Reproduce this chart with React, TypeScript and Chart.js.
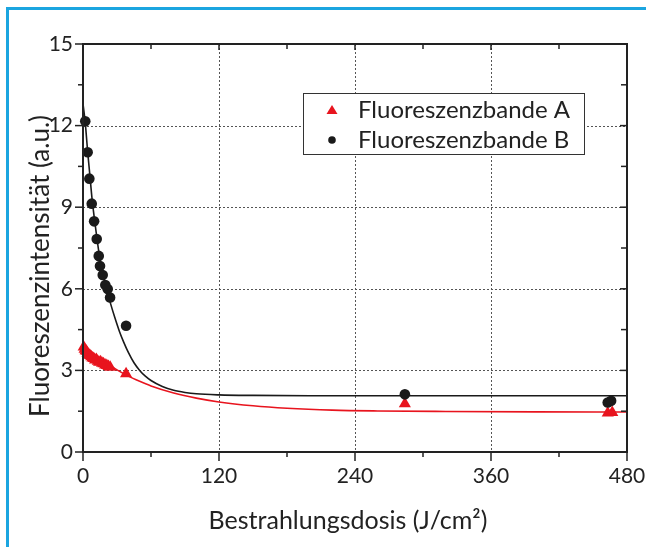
import React, { useEffect, useRef } from 'react';
import { Chart, registerables } from 'chart.js';

Chart.register(...registerables);

// ---- data ----
const doseA = [0.6, 1.4, 2.3, 3.1, 4.0, 5.0, 6.1, 7.2, 8.3, 9.5, 10.6, 11.8, 13.0, 14.2, 15.5, 16.8, 18.1, 19.5, 21.0, 22.5, 24.0, 38.0, 284, 463, 467];
const intensityA = [3.86, 3.78, 3.72, 3.70, 3.62, 3.58, 3.55, 3.50, 3.46, 3.44, 3.38, 3.40, 3.34, 3.30, 3.32, 3.26, 3.24, 3.20, 3.18, 3.14, 3.12, 2.88, 1.77, 1.43, 1.45];

const doseB = [2.0, 4.1, 5.6, 7.7, 9.8, 12.1, 13.9, 15.0, 17.4, 19.7, 21.8, 23.9, 38.0, 284, 463, 466];
const intensityB = [12.16, 11.02, 10.05, 9.13, 8.48, 7.83, 7.21, 6.84, 6.51, 6.14, 5.99, 5.68, 4.64, 2.12, 1.82, 1.88];

const fitDoseA = [0, 10, 20, 30, 40, 50, 60, 80, 100, 120, 150, 180, 220, 260, 320, 400, 480];
const fitA = [3.96, 3.59, 3.28, 3.02, 2.79, 2.6, 2.43, 2.17, 1.98, 1.84, 1.7, 1.61, 1.54, 1.51, 1.49, 1.475, 1.47];

const fitDoseB = [0, 2, 4, 6, 8, 10, 12, 14, 16, 18, 20, 22, 24, 28, 32, 36, 40, 45, 50, 55, 60, 70, 80, 90, 100, 120, 150, 200, 300, 480];
const fitB = [12.8, 12.1, 11.1, 10.2, 9.3, 8.6, 7.95, 7.35, 6.85, 6.45, 6.1, 5.8, 5.5, 4.95, 4.45, 4.03, 3.66, 3.28, 3.0, 2.79, 2.63, 2.41, 2.27, 2.19, 2.14, 2.1, 2.08, 2.07, 2.07, 2.07];

const xMajor = [0, 120, 240, 360, 480];
const xMinor = [60, 180, 300, 420];
const yMajor = [0, 3, 6, 9, 12, 15];
const yMinor = [1.5, 4.5, 7.5, 10.5, 13.5];

const legendLabels = ['Fluoreszenzbande A', 'Fluoreszenzbande B'];
const xTitle = 'Bestrahlungsdosis (J/cm²)';
const yTitle = 'Fluoreszenzintensität (a.u.)';

// ---- styles ----
const RED = '#e8141e';
const BLACK = '#1a1a1a';
const AXIS = '#222222';
const FONT = 'Lato, "Open Sans", sans-serif';
const BLUE = '#1ba5e0';

const toXY = (xs: number[], ys: number[]) => xs.map((x, i) => ({ x, y: ys[i] }));

const decorPlugin = {
  id: 'decor',
  beforeDatasetsDraw(chart: any) {
    const { ctx, chartArea: a, scales } = chart;
    const x = scales.x;
    const y = scales.y;
    ctx.save();
    ctx.strokeStyle = '#555555';
    ctx.lineWidth = 1;
    ctx.setLineDash([2, 2]);
    xMajor.forEach((v) => {
      if (v <= x.min || v >= x.max) return;
      const px = Math.round(x.getPixelForValue(v)) + 0.5;
      ctx.beginPath();
      ctx.moveTo(px, a.top);
      ctx.lineTo(px, a.bottom);
      ctx.stroke();
    });
    yMajor.forEach((v) => {
      if (v <= y.min || v >= y.max) return;
      const py = Math.round(y.getPixelForValue(v)) + 0.5;
      ctx.beginPath();
      ctx.moveTo(a.left, py);
      ctx.lineTo(a.right, py);
      ctx.stroke();
    });
    ctx.restore();
  },
  afterDatasetsDraw(chart: any) {
    const { ctx, chartArea: a, scales } = chart;
    const x = scales.x;
    const y = scales.y;
    ctx.save();
    ctx.strokeStyle = AXIS;
    ctx.lineWidth = 2;
    ctx.setLineDash([]);
    ctx.strokeRect(a.left, a.top, a.right - a.left, a.bottom - a.top);
    const seg = (x1: number, y1: number, x2: number, y2: number) => {
      ctx.beginPath();
      ctx.moveTo(x1, y1);
      ctx.lineTo(x2, y2);
      ctx.stroke();
    };
    ctx.lineWidth = 1.5;
    xMajor.forEach((v) => {
      const px = x.getPixelForValue(v);
      seg(px, a.bottom, px, a.bottom + 9);
      seg(px, a.top, px, a.top + 6);
    });
    xMinor.forEach((v) => {
      const px = x.getPixelForValue(v);
      seg(px, a.bottom, px, a.bottom + 5);
      seg(px, a.top, px, a.top + 5);
    });
    yMajor.forEach((v) => {
      const py = y.getPixelForValue(v);
      seg(a.left - 8, py, a.left, py);
      seg(a.right - 7, py, a.right, py);
    });
    yMinor.forEach((v) => {
      const py = y.getPixelForValue(v);
      seg(a.left - 5, py, a.left, py);
      seg(a.right - 6, py, a.right, py);
    });

    // legend box
    const bx = 303, by = 93, bw = 281, bh = 61;
    ctx.fillStyle = '#ffffff';
    ctx.fillRect(bx, by, bw, bh);
    ctx.strokeStyle = '#333333';
    ctx.lineWidth = 1;
    ctx.strokeRect(bx + 0.5, by + 0.5, bw, bh);
    // triangle marker
    ctx.fillStyle = RED;
    ctx.beginPath();
    ctx.moveTo(332, 105);
    ctx.lineTo(337.5, 114);
    ctx.lineTo(326.5, 114);
    ctx.closePath();
    ctx.fill();
    // circle marker
    ctx.fillStyle = BLACK;
    ctx.beginPath();
    ctx.arc(332, 140, 3.8, 0, Math.PI * 2);
    ctx.fill();
    ctx.fillStyle = AXIS;
    ctx.font = `24px ${FONT}`;
    ctx.textAlign = 'left';
    ctx.textBaseline = 'alphabetic';
    ctx.fillText(legendLabels[0], 358, 118);
    ctx.fillText(legendLabels[1], 358, 148);

    // axis titles
    ctx.font = `25px ${FONT}`;
    ctx.textAlign = 'center';
    ctx.fillText(xTitle, 348, 529);
    ctx.save();
    ctx.translate(49, 266);
    ctx.rotate(-Math.PI / 2);
    ctx.font = `26px ${FONT}`;
    ctx.fillText(yTitle, 0, 0);
    ctx.restore();
    ctx.restore();
  },
};

export default function App() {
  const ref = useRef<HTMLCanvasElement | null>(null);
  useEffect(() => {
    if (!ref.current) return;
    const chart = new Chart(ref.current, {
      type: 'scatter',
      data: {
        datasets: [
          {
            label: legendLabels[1],
            data: toXY(doseB, intensityB),
            pointStyle: 'circle',
            pointRadius: 5.3,
            pointBackgroundColor: BLACK,
            pointBorderColor: BLACK,
            pointBorderWidth: 0,
            showLine: false,
            clip: false,
          },
          {
            label: legendLabels[0],
            data: toXY(doseA, intensityA),
            pointStyle: 'triangle',
            pointRadius: 7,
            pointBackgroundColor: RED,
            pointBorderColor: RED,
            pointBorderWidth: 0,
            showLine: false,
            clip: false,
          },
          {
            label: 'Fit B',
            data: toXY(fitDoseB, fitB),
            showLine: true,
            pointRadius: 0,
            borderColor: BLACK,
            borderWidth: 1.6,
            cubicInterpolationMode: 'monotone',
          },
          {
            label: 'Fit A',
            data: toXY(fitDoseA, fitA),
            showLine: true,
            pointRadius: 0,
            borderColor: RED,
            borderWidth: 1.6,
            cubicInterpolationMode: 'monotone',
          },
        ],
      } as any,
      options: {
        animation: false,
        responsive: false,
        maintainAspectRatio: false,
        devicePixelRatio: 1,
        layout: { padding: { left: 0, top: 44, right: 19, bottom: 0 } },
        plugins: {
          legend: { display: false },
          tooltip: { enabled: false },
          title: { display: false },
        },
        scales: {
          x: {
            type: 'linear',
            min: 0,
            max: 480,
            grid: { display: false, drawTicks: false },
            border: { display: false },
            ticks: {
              stepSize: 120,
              color: AXIS,
              font: { family: FONT, size: 21 },
              padding: 12,
              maxRotation: 0,
            },
            afterFit: (s: any) => {
              s.height = 95;
              s.paddingLeft = 0;
              s.paddingRight = 0;
            },
          },
          y: {
            type: 'linear',
            min: 0,
            max: 15,
            grid: { display: false, drawTicks: false },
            border: { display: false },
            ticks: {
              stepSize: 3,
              color: AXIS,
              font: { family: FONT, size: 21 },
              padding: 10,
            },
            afterFit: (s: any) => {
              s.width = 83;
              s.paddingTop = 0;
              s.paddingBottom = 0;
            },
          },
        },
      } as any,
      plugins: [decorPlugin],
    });
    return () => chart.destroy();
  }, []);

  return (
    <div style={{ position: 'absolute', left: 0, top: 0, width: 646, height: 547, background: '#ffffff' }}>
      <canvas ref={ref} width={646} height={547} style={{ position: 'absolute', left: 0, top: 0, width: 646, height: 547 }} />
      <div
        style={{
          position: 'absolute',
          left: 6,
          top: 7,
          width: 640,
          height: 540,
          borderLeft: `3px solid ${BLUE}`,
          borderTop: `3px solid ${BLUE}`,
          boxSizing: 'border-box',
          pointerEvents: 'none',
        }}
      />
    </div>
  );
}
